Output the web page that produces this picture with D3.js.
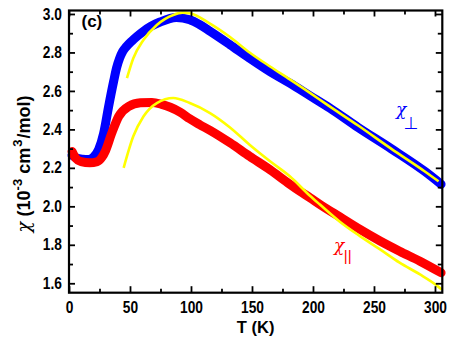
<!DOCTYPE html>
<html>
<head>
<meta charset="utf-8">
<script src="https://cdn.jsdelivr.net/npm/d3@7"></script>
<style>
  body { margin: 0; background: #fff; }
  svg { display: block; font-family: "Liberation Sans", Arial, sans-serif; }
</style>
</head>
<body>
<svg id="chart" width="450" height="345"></svg>
<script>
// chi_perp data (blue)
const perpT   = [2.5, 6, 11, 16, 20, 24.3, 28.4, 32.5, 36.6, 39, 41.5, 44, 47, 51.6, 56, 61, 67, 74.6, 88, 99, 107, 115.6, 132, 148, 164.8, 181, 197.5, 214, 237, 264, 292, 305];
const perpChi = [2.265, 2.252, 2.245, 2.243, 2.255, 2.295, 2.38, 2.52, 2.65, 2.72, 2.77, 2.805, 2.83, 2.86, 2.885, 2.91, 2.935, 2.958, 2.982, 2.97, 2.945, 2.91, 2.84, 2.77, 2.70, 2.64, 2.575, 2.51, 2.41, 2.30, 2.18, 2.115];

// chi_par data (red)
const parT   = [2.5, 5.5, 10, 17, 23, 27, 30, 35, 40.7, 49, 58.5, 68, 76, 83, 91, 99, 107, 115.6, 132, 148, 164.8, 181, 189, 197.5, 205.7, 222, 238.5, 255, 271, 287.7, 305];
const parChi = [2.285, 2.25, 2.232, 2.226, 2.232, 2.255, 2.29, 2.38, 2.467, 2.52, 2.538, 2.54, 2.53, 2.515, 2.49, 2.455, 2.425, 2.395, 2.33, 2.26, 2.19, 2.115, 2.08, 2.045, 2.01, 1.945, 1.88, 1.82, 1.767, 1.715, 1.655];

// fits (yellow)
const fitPerpT   = [47.5, 52.7, 61, 72, 85.5, 93, 99, 115.6, 132, 148, 164.8, 181, 197.5, 210, 237, 264, 292, 303];
const fitPerpChi = [2.666, 2.77, 2.865, 2.943, 2.995, 3.007, 3.004, 2.95, 2.88, 2.80, 2.727, 2.66, 2.59, 2.535, 2.42, 2.30, 2.18, 2.13];
const fitParT    = [44.8, 52.7, 61, 72, 85.5, 99, 115.6, 132, 148, 164.8, 181, 197.5, 205.7, 222, 238.5, 255, 271, 287.7, 301.4, 305.5];
const fitParChi  = [2.20, 2.364, 2.467, 2.537, 2.563, 2.537, 2.485, 2.41, 2.32, 2.234, 2.156, 2.055, 2.009, 1.92, 1.845, 1.776, 1.707, 1.646, 1.589, 1.568];

const xMajor = [0, 50, 100, 150, 200, 250, 300];
const xMinor = [25, 75, 125, 175, 225, 275];
const yMajor = [1.6, 1.8, 2.0, 2.2, 2.4, 2.6, 2.8, 3.0];
const yMinor = [1.7, 1.9, 2.1, 2.3, 2.5, 2.7, 2.9];

const width = 450, height = 345;
const margins = { top: 10.5, right: 7.7, bottom: 52.3, left: 69 };

const svg = d3.select("#chart");

const x = d3.scaleLinear()
  .domain([0, 306])
  .range([margins.left, width - margins.right]);

const y = d3.scaleLinear()
  .domain([1.551, 3.018])
  .range([height - margins.bottom, margins.top]);

const zip = (a, b) => a.map((d, i) => [d, b[i]]);

const line = d3.line()
  .curve(d3.curveMonotoneX)
  .x(d => x(d[0]))
  .y(d => y(d[1]));

// data bands
svg.append("path")
  .attr("fill", "none")
  .attr("stroke", "#0000FF")
  .attr("stroke-width", 9)
  .attr("stroke-linejoin", "round")
  .attr("stroke-linecap", "round")
  .attr("d", line(zip(perpT, perpChi)));

svg.append("path")
  .attr("fill", "none")
  .attr("stroke", "#FF0000")
  .attr("stroke-width", 9)
  .attr("stroke-linejoin", "round")
  .attr("stroke-linecap", "round")
  .attr("d", line(zip(parT, parChi)));

// fit curves
[zip(fitPerpT, fitPerpChi), zip(fitParT, fitParChi)].forEach(f => {
  svg.append("path")
    .attr("fill", "none")
    .attr("stroke", "#FFFF00")
    .attr("stroke-width", 2.6)
    .attr("d", line(f));
});

// axes, ticks inward on all four sides
const h = height - margins.bottom;
const r = width - margins.right;

const styleAxis = g => {
  g.select(".domain").remove();
  g.selectAll("line").attr("stroke", "#000").attr("stroke-width", 1.8);
};

svg.append("g").attr("transform", `translate(0,${h})`)
  .call(d3.axisBottom(x).tickValues(xMajor).tickSize(-6.5).tickPadding(8.5).tickFormat(d3.format("d")))
  .call(styleAxis)
  .call(g => g.selectAll("text")
    .attr("fill", "#000")
    .style("font-size", "16px")
    .style("font-weight", "bold")
    .attr("transform", "scale(0.86,1)"));

svg.append("g").attr("transform", `translate(0,${h})`)
  .call(d3.axisBottom(x).tickValues(xMinor).tickSize(-4).tickFormat(""))
  .call(styleAxis);

svg.append("g").attr("transform", `translate(0,${margins.top})`)
  .call(d3.axisTop(x).tickValues(xMajor).tickSize(-6).tickFormat(""))
  .call(styleAxis);

svg.append("g").attr("transform", `translate(0,${margins.top})`)
  .call(d3.axisTop(x).tickValues(xMinor).tickSize(-4).tickFormat(""))
  .call(styleAxis);

svg.append("g").attr("transform", `translate(${margins.left},0)`)
  .call(d3.axisLeft(y).tickValues(yMajor).tickSize(-6).tickFormat(d3.format(".1f")))
  .call(styleAxis)
  .call(g => g.selectAll("text")
    .attr("fill", "#000")
    .attr("x", -8.2)
    .style("font-size", "16px")
    .style("font-weight", "bold")
    .attr("transform", "scale(0.86,1)"));

svg.append("g").attr("transform", `translate(${margins.left},0)`)
  .call(d3.axisLeft(y).tickValues(yMinor).tickSize(-4).tickFormat(""))
  .call(styleAxis);

svg.append("g").attr("transform", `translate(${r},0)`)
  .call(d3.axisRight(y).tickValues(yMajor).tickSize(-6.5).tickFormat(""))
  .call(styleAxis);

svg.append("g").attr("transform", `translate(${r},0)`)
  .call(d3.axisRight(y).tickValues(yMinor).tickSize(-4.5).tickFormat(""))
  .call(styleAxis);

// frame
svg.append("rect")
  .attr("x", margins.left)
  .attr("y", margins.top)
  .attr("width", r - margins.left)
  .attr("height", h - margins.top)
  .attr("fill", "none")
  .attr("stroke", "#000")
  .attr("stroke-width", 2.2);

// axis titles
svg.append("text")
  .attr("x", (margins.left + r) / 2)
  .attr("y", 333)
  .attr("text-anchor", "middle")
  .style("font-size", "16.5px")
  .style("font-weight", "bold")
  .text("T (K)");

const yTitle = svg.append("text")
  .attr("transform", "translate(30,164) rotate(-90)")
  .attr("text-anchor", "middle")
  .style("font-size", "18px")
  .style("font-weight", "bold");
yTitle.append("tspan")
  .style("font-family", "'DejaVu Serif', serif")
  .style("font-style", "italic")
  .style("font-weight", "normal")
  .text("χ");
yTitle.append("tspan").text(" (10");
yTitle.append("tspan").attr("dy", -8).style("font-size", "13px").text("-3");
yTitle.append("tspan").attr("dy", 8).text(" cm");
yTitle.append("tspan").attr("dy", -8).attr("dx", 1).style("font-size", "13px").text("3");
yTitle.append("tspan").attr("dy", 8).attr("dx", 1).text("/mol)");

// panel tag
svg.append("text")
  .attr("x", 81.5)
  .attr("y", 26.5)
  .style("font-size", "17px")
  .style("font-weight", "bold")
  .text("(c)");

// curve labels: chi with a subscript, one text each
const chiLabel = (cx, cy, dx, dy, sub, colour, subFont, subSize) => {
  const t = svg.append("text")
    .attr("x", cx)
    .attr("y", cy)
    .attr("fill", colour);
  t.append("tspan")
    .style("font-family", "'DejaVu Serif', serif")
    .style("font-style", "italic")
    .style("font-size", "17px")
    .text("χ");
  t.append("tspan")
    .attr("dx", dx)
    .attr("dy", dy)
    .style("font-family", subFont)
    .style("font-size", subSize)
    .text(sub);
};

chiLabel(396, 115, -2.5, 13.5, "⊥", "#0000FF", "'DejaVu Sans', sans-serif", "17px");
chiLabel(334, 251, -0.5, 10, "||", "#FF0000", "'Liberation Sans', sans-serif", "15px");
</script>
</body>
</html>
